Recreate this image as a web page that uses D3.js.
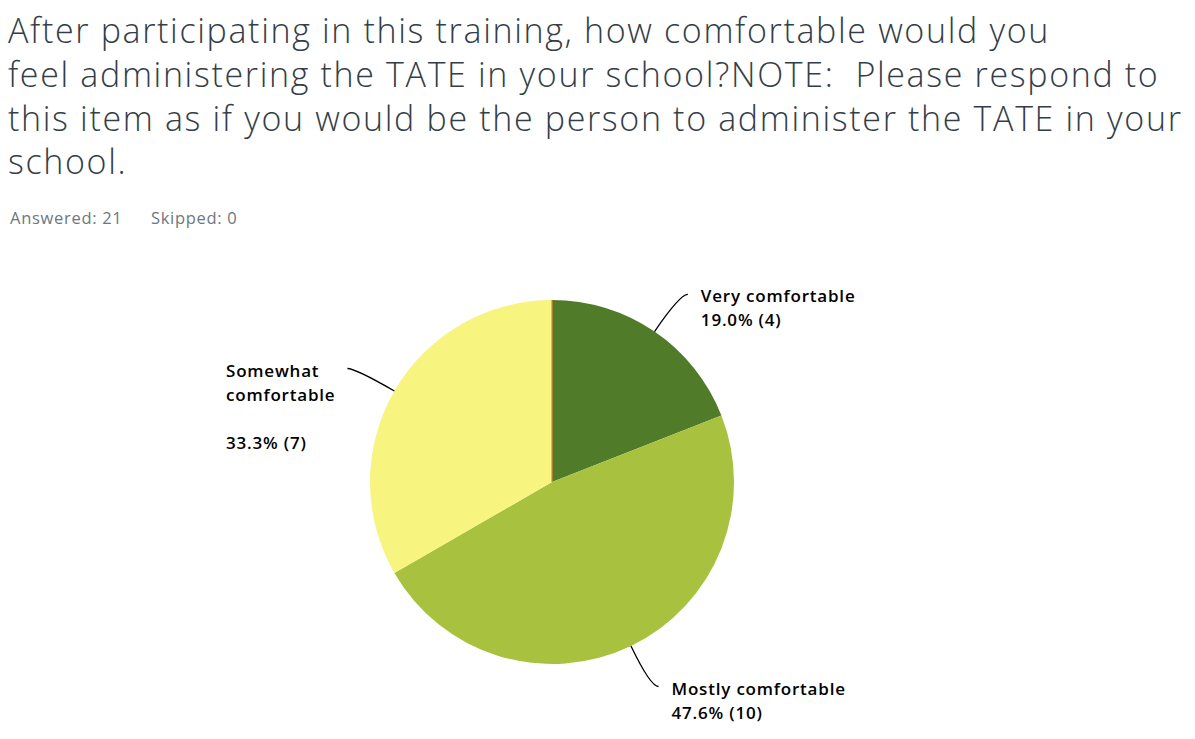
<!DOCTYPE html>
<html>
<head>
<meta charset="utf-8">
<script src="https://cdn.jsdelivr.net/npm/d3@7"></script>
<style>
  body { margin: 0; background: #fff; }
  svg { display: block; }
</style>
</head>
<body>
<svg id="chart"></svg>
<script>
// survey question text
const titleLines = [
  "After participating in this training, how comfortable would you",
  "feel administering the TATE in your school?NOTE:  Please respond to",
  "this item as if you would be the person to administer the TATE in your",
  "school."
];
const answered = 21;
const skipped = 0;

// answer choices, clockwise from 12 o'clock
const categories = ["Very comfortable", "Mostly comfortable", "Somewhat comfortable", "Not at all comfortable"];
const counts = [4, 10, 7, 0];
const percents = ["19.0%", "47.6%", "33.3%", "0.0%"];
const colors = ["#507b29", "#a8c23f", "#f7f47f", "#e8803a"];

const width = 1195, height = 739;
const cx = 552, cy = 482, radius = 182;

const svg = d3.select("#chart")
  .attr("width", width)
  .attr("height", height);

// title
svg.append("g").selectAll("text")
  .data(titleLines)
  .join("text")
  .attr("x", 8)
  .attr("y", (d, i) => 43 + i * 43.8)
  .attr("font-family", "Open Sans")
  .attr("font-weight", 300)
  .attr("font-size", 34)
  .attr("letter-spacing", 1.65)
  .attr("fill", "#333e48")
  .attr("xml:space", "preserve")
  .text(d => d);

const meta = svg.append("g")
  .attr("font-family", "Open Sans")
  .attr("font-size", 16.5)
  .attr("letter-spacing", 0.7)
  .attr("fill", "#6b787f");
meta.append("text").attr("x", 10).attr("y", 224).text("Answered: " + answered);
meta.append("text").attr("x", 151).attr("y", 224).text("Skipped: " + skipped);

// pie
const data = categories.map((c, i) => ({cat: c, count: counts[i], pct: percents[i], color: colors[i]}));

const pie = d3.pie()
  .sort(null)
  .value(d => d.count);

const arc = d3.arc()
  .innerRadius(0)
  .outerRadius(radius);

const arcs = pie(data);

const g = svg.append("g")
  .attr("transform", `translate(${cx},${cy})`);

g.selectAll("path.slice")
  .data(arcs.filter(d => d.data.count > 0))
  .join("path")
  .attr("class", "slice")
  .attr("d", arc)
  .attr("fill", d => d.data.color);

// zero slice shows up as a thin line at 12 o'clock
g.selectAll("line.zero")
  .data(arcs.filter(d => d.data.count === 0))
  .join("line")
  .attr("class", "zero")
  .attr("x1", 0).attr("y1", 0)
  .attr("x2", d => radius * Math.sin(d.startAngle))
  .attr("y2", d => -radius * Math.cos(d.startAngle))
  .attr("stroke", d => d.data.color)
  .attr("stroke-width", 1.2);

// labels with curved leaders
const wrapLines = {
  "Somewhat comfortable": ["Somewhat", "comfortable", ""]
};
const lineH = 24;

const labelG = svg.append("g")
  .attr("font-family", "Open Sans")
  .attr("font-weight", 600)
  .attr("font-size", 17)
  .attr("letter-spacing", 0.8)
  .attr("fill", "#000");

arcs.filter(d => d.data.count > 0).forEach(d => {
  const mid = (d.startAngle + d.endAngle) / 2;
  const sx = Math.sin(mid), sy = -Math.cos(mid);
  const p = [cx + radius * sx, cy + radius * sy];
  const c = [cx + (radius + 45) * sx, cy + (radius + 45) * sy];
  const right = sx >= 0;
  const e = [c[0] + (right ? 8 : -8), c[1]];

  const path = d3.path();
  path.moveTo(p[0], p[1]);
  path.quadraticCurveTo(c[0], c[1], e[0], e[1]);
  svg.append("path")
    .attr("d", path.toString())
    .attr("fill", "none")
    .attr("stroke", "#000")
    .attr("stroke-width", 1.3);

  const lines = (wrapLines[d.data.cat] || [d.data.cat]).concat([`${d.data.pct} (${d.data.count})`]);
  const t = labelG.append("text");
  t.selectAll("tspan")
    .data(lines)
    .join("tspan")
    .attr("dy", (l, i) => i === 0 ? 0 : lineH)
    .text(l => l || "\u00a0");
  let tx = e[0] + 13;
  if (!right) {
    let w = 0;
    t.selectAll("tspan").each(function() { w = Math.max(w, this.getComputedTextLength()); });
    tx = e[0] - 12 - w;
  }
  t.attr("x", tx).attr("y", e[1] + 8);
  t.selectAll("tspan").attr("x", tx);
});
</script>
</body>
</html>
